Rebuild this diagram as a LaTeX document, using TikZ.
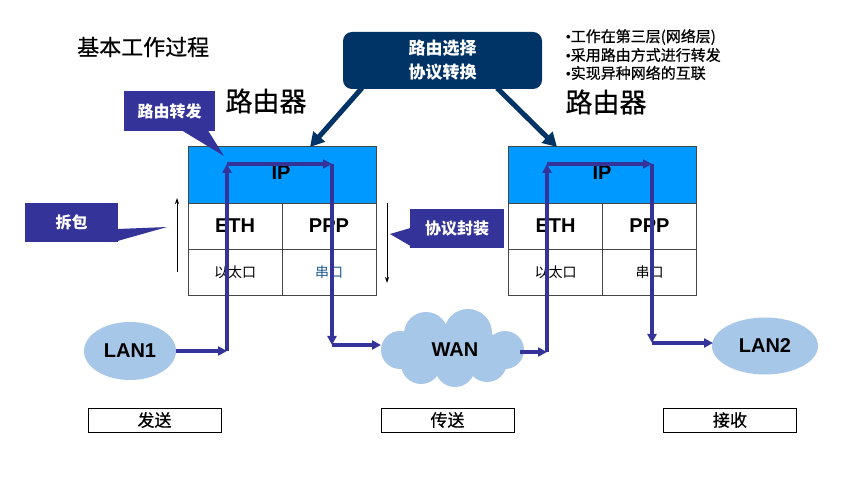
\documentclass[tikz,border=0pt]{standalone}
\usepackage{fontspec}
\setmainfont{Liberation Sans}
\newfontfamily\cjk{Noto Sans CJK SC}
\newfontfamily\cjkm[FakeBold=0.6]{Noto Sans CJK SC}
\usetikzlibrary{arrows.meta,shapes.geometric}
\definecolor{navy}{RGB}{0,51,102}
\definecolor{indig}{RGB}{51,51,153}
\definecolor{ipblue}{RGB}{0,153,255}
\definecolor{lanblue}{RGB}{166,199,232}
\definecolor{cellline}{RGB}{70,70,70}
\definecolor{serblue}{RGB}{30,90,150}
\tikzset{
  cell/.style={draw=cellline, line width=0.9pt, minimum width=94, minimum height=46, inner sep=0pt, outer sep=0pt},
  ipcell/.style={cell, fill=ipblue, minimum width=188, minimum height=57},
  big/.style={font=\fontsize{20}{24}\selectfont\bfseries},
  small/.style={font=\cjk\fontsize{14}{16}\selectfont},
  callbox/.style={fill=indig, text=white, inner sep=0pt, font=\cjk\fontsize{16}{18}\selectfont\bfseries},
  flow/.style={draw=indig, line width=3.3pt, -{Triangle[length=9pt,width=9pt]}},
  thinarrow/.style={draw=black, line width=0.8pt, -{Stealth[length=6pt,width=4pt]}},
  navyarrow/.style={draw=navy, line width=5pt, -{Triangle[length=14pt,width=15pt]}},
  lan/.style={ellipse, fill=lanblue, inner sep=0pt, big},
  stage/.style={draw=black, line width=0.8pt, minimum width=133, minimum height=24, inner sep=0pt, font=\cjkm\fontsize{17}{19}\selectfont},
  bullet/.style={anchor=west, inner sep=0pt, font=\cjkm\fontsize{15}{17}\selectfont},
}
\newcommand{\bul}{{\rmfamily\bfseries\fontsize{13}{15}\selectfont •}}
\begin{document}
\begin{tikzpicture}[x=1pt,y=-1pt]
\useasboundingbox[fill=white] (0,0) rectangle (857,494);

% title
\node[anchor=west, inner sep=0pt, font=\cjkm\fontsize{22}{24}\selectfont] (title) at (77,47) {基本工作过程};

% top dark box
\node[fill=navy, rounded corners=9pt, minimum width=199, minimum height=57, text=white, align=center,
      font=\cjk\fontsize{17}{24}\selectfont\bfseries] (proto) at (442.5,60.5) {路由选择\\协议转换};

% bullets
\node[bullet] (b1) at (566,37) {\bul 工作在第三层(网络层)};
\node[bullet] (b2) at (566,55) {\bul 采用路由方式进行转发};
\node[bullet] (b3) at (566,73) {\bul 实现异种网络的互联};

% router labels
\node[font=\cjkm\fontsize{27}{29}\selectfont, inner sep=0pt] (r1lab) at (266,101) {路由器};
\node[font=\cjkm\fontsize{27}{29}\selectfont, inner sep=0pt] (r2lab) at (606,102) {路由器};

% router 1
\node[ipcell] (ip1) at (282,174.5) {};
\node[big] at (281,173) {IP};
\node[cell, big] (eth1) at (235,226) {ETH};
\node[cell, big] (ppp1) at (329,226) {PPP};
\node[cell, small] (if1a) at (235,272) {以太口};
\node[cell, small, text=serblue] (if1b) at (329,272) {串口};

% router 2
\node[ipcell] (ip2) at (602.5,174.5) {};
\node[big] at (602,173) {IP};
\node[cell, big] (eth2) at (555.5,226) {ETH};
\node[cell, big] (ppp2) at (649.5,226) {PPP};
\node[cell, small] (if2a) at (555.5,272) {以太口};
\node[cell, small] (if2b) at (649.5,272) {串口};

% navy arrows
\coordinate (pa1) at (362,88);
\coordinate (pa2) at (497,88);
\draw[navyarrow] (pa1) -- (310,147);
\draw[navyarrow] (pa2) -- (557,147);

% callouts
\node[callbox, minimum width=91, minimum height=40] (cfwd) at (169.5,111) {路由转发};
\fill[indig] (182,130.5) -- (224,156) -- (208,130.5) -- cycle;
\node[callbox, minimum width=93, minimum height=39] (cunp) at (71.5,222.5) {拆包};
\fill[indig] (117.5,229) -- (167,227) -- (117.5,241) -- cycle;
\node[callbox, minimum width=94, minimum height=39] (cenc) at (457,228.5) {协议封装};
\fill[indig] (410.5,228) -- (390,234) -- (410.5,246) -- cycle;

% thin arrows
\coordinate (u1) at (177,272);
\coordinate (u2) at (177,198);
\draw[thinarrow] (u1) -- (u2);
\coordinate (d1) at (387,203);
\coordinate (d2) at (387,283);
\draw[thinarrow] (d1) -- (d2);

% LANs
\node[lan, minimum width=92, minimum height=58] (lan1) at (130,351) {LAN1};
\node[lan, minimum width=106, minimum height=57] (lan2) at (765,346) {LAN2};

% WAN cloud
\fill[lanblue] (400,350) circle[radius=19]
  (426,334) circle[radius=22]
  (468,333) circle[radius=24]
  (505,350) circle[radius=19]
  (487,362) circle[radius=20]
  (455,367) circle[radius=20]
  (421,364) circle[radius=20]
  (453,350) ellipse[x radius=52, y radius=24];
\node[big, minimum width=145, minimum height=75, inner sep=0pt] (wan) at (455,350) {WAN};

% flow path
\coordinate (c1) at (227,351);
\coordinate (c2) at (227,164);
\coordinate (c3) at (332,164);
\coordinate (c4) at (332,345);
\coordinate (w1) at (381,345);
\coordinate (w2) at (520,352);
\coordinate (c5) at (547,352);
\coordinate (c6) at (547,164);
\coordinate (c7) at (652,164);
\coordinate (c8) at (652,343);
\coordinate (l2) at (713,343);
\draw[flow] (lan1.east |- c1) -- (c1);
\draw[flow] (c1) -- (c2);
\draw[flow] (c2) -- (c3);
\draw[flow] (c3) -- (c4);
\draw[flow] (c4) -- (w1);
\draw[flow] (w2) -- (c5);
\draw[flow] (c5) -- (c6);
\draw[flow] (c6) -- (c7);
\draw[flow] (c7) -- (c8);
\draw[flow] (c8) -- (l2);

% stage boxes
\node[stage] (s1) at (154.5,420) {发送};
\node[stage] (s2) at (447.5,420) {传送};
\node[stage] (s3) at (730,420) {接收};
\end{tikzpicture}
\end{document}
